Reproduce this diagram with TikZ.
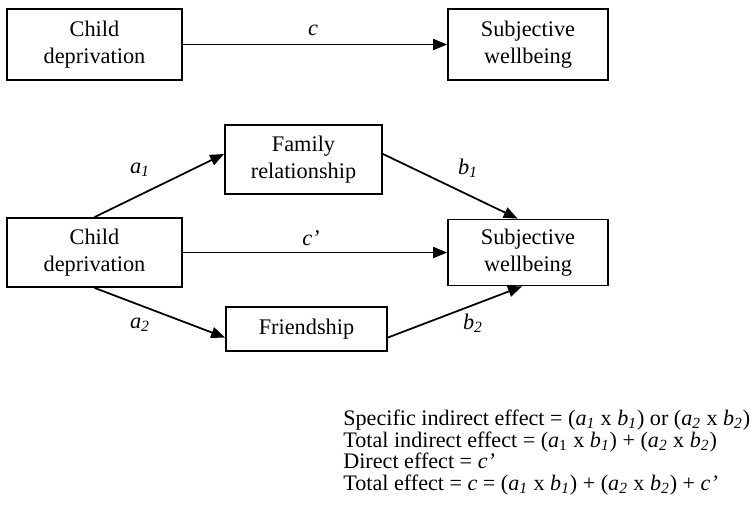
\documentclass[tikz,border=0pt]{standalone}
\usepackage{fontspec}
\setmainfont{Liberation Serif}
\usepackage{tikz}
\usetikzlibrary{arrows.meta,positioning}
\newcommand{\coef}[2]{\textit{#1}\textsubscript{\textit{#2}}}

\begin{document}
\begin{tikzpicture}[
  font=\fontsize{12.7}{15.3}\selectfont,
  every node/.style={align=center},
  var/.style={draw=black,line width=1pt,inner sep=2pt,
              minimum height=1.38cm},
  effect/.style={-{Triangle[length=2.8mm,width=2.2mm]},line width=1pt},
  coeflbl/.style={inner sep=0pt}
]
\useasboundingbox (0,0) rectangle (15.04,-10.16);

% total effect model
\node[var,minimum width=3.5cm,minimum height=1.42cm] (cd1) at (1.89,-0.89)  {Child\\deprivation};
\node[var,minimum width=3.2cm,minimum height=1.42cm] (sw1) at (10.56,-0.89) {Subjective\\wellbeing};

% mediation model
\node[var,minimum width=3.14cm] (fam) at (6.07,-3.19)  {Family\\relationship};
\node[var,minimum width=3.5cm]  (cd2) at (1.89,-5.05)  {Child\\deprivation};
\node[var,minimum width=3.2cm,minimum height=1.32cm] (sw2) at (10.56,-5.05) {Subjective\\wellbeing};
\node[var,minimum width=3.22cm,minimum height=0.88cm] (fr) at (6.13,-6.58) {Friendship};

\draw[effect] (cd1) -- (sw1);
\draw[effect] (cd2) -- (sw2);
\draw[effect] (cd2.north) -- (fam.176);
\draw[effect] (fam.4) -- (sw2.107);
\draw[effect] (cd2.south) -- (fr.186);
\draw[effect] (fr.354) -- (sw2.260);

\node[coeflbl,anchor=base] (lc)  at (6.26,-0.70) {\textit{c}};
\node[coeflbl,anchor=base] (lcp) at (6.22,-4.90) {\textit{c’}};
\node[coeflbl] (la1) at (2.80,-3.40) {\coef{a}{1}};
\node[coeflbl] (lb1) at (9.36,-3.36) {\coef{b}{1}};
\node[coeflbl] (la2) at (2.80,-6.50) {\coef{a}{2}};
\node[coeflbl] (lb2) at (9.46,-6.46) {\coef{b}{2}};

% effect definitions
\node[anchor=base west,align=left,inner sep=0pt,
      font=\fontsize{12.6}{12.2}\selectfont] (defs) at (6.86,-9.80)
  {Specific indirect effect = (\coef{a}{1} x \coef{b}{1}) or (\coef{a}{2} x \coef{b}{2})\\
   Total indirect effect = (\textit{a}\textsubscript{1} x \coef{b}{1}) + (\coef{a}{2} x \coef{b}{2})\\
   Direct effect = \textit{c’}\\
   Total effect = \textit{c} = (\coef{a}{1} x \coef{b}{1}) + (\coef{a}{2} x \coef{b}{2}) + \textit{c’}};
\end{tikzpicture}
\end{document}
